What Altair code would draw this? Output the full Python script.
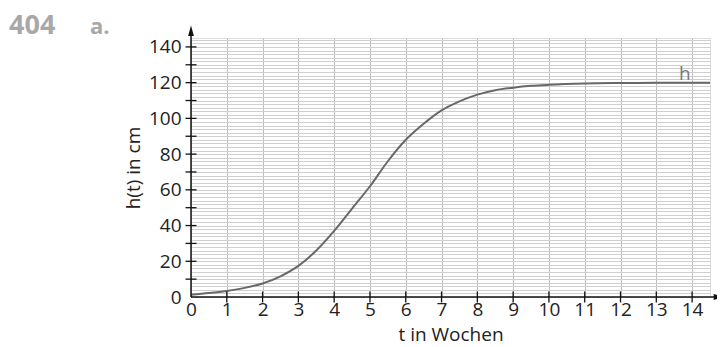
import altair as alt
import pandas as pd

# curve values
t_vals = [0, 0.5, 1, 1.5, 2, 2.5, 3, 3.5, 4, 4.5, 5, 5.5, 6, 6.5, 7, 7.5, 8, 8.5, 9, 9.5, 10, 11, 12, 13, 14, 14.5]
h_vals = [1.3, 2.2, 3.4, 5.1, 7.6, 11.6, 17.4, 26, 37, 49.5, 62, 76, 88, 97, 104.5, 109.5, 113.3, 115.8, 117.2, 118.2, 118.8, 119.5, 119.8, 120, 120, 120]

x_ticks = list(range(1, 15))
x_labels = list(range(0, 15))
y_ticks = [10, 20, 30, 40, 50, 60, 70, 80, 90, 100, 110, 120, 130, 140]
y_labels = [0, 20, 40, 60, 80, 100, 120, 140]
y_grid = list(range(0, 146, 2))

FONT = "Open Sans"
W, H = 519, 259

curve = pd.DataFrame({"t": t_vals, "h": h_vals})
xs = alt.Scale(domain=[0, 14.5], nice=False, zero=False)
ys = alt.Scale(domain=[0, 145], nice=False, zero=False)

line = alt.Chart(curve).mark_line(color="#686868", strokeWidth=2, interpolate="monotone").encode(
    x=alt.X("t:Q", scale=xs, title="t in Wochen",
            axis=alt.Axis(values=x_labels, grid=True, gridColor="#bdbdbd", gridWidth=1,
                          domain=False, ticks=False, labelPadding=3, labelFontSize=19,
                          labelOverlap=False, labelFlush=False,
                          labelFont=FONT, labelColor="#222222", titleFont=FONT,
                          titleFontSize=19, titleFontWeight="normal", titleColor="#222222",
                          titlePadding=6)),
    y=alt.Y("h:Q", scale=ys, title="h(t) in cm",
            axis=alt.Axis(values=y_grid, grid=True, gridColor="#cfcfcf", gridWidth=1,
                          domain=False, ticks=False, labelPadding=10, labelFontSize=19,
                          labelOverlap=False, labelFlush=False,
                          labelFont=FONT, labelColor="#222222",
                          labelExpr="datum.value % 20 === 0 ? datum.label : ''",
                          titleFont=FONT, titleFontSize=19, titleFontWeight="normal",
                          titleColor="#222222", titlePadding=5)),
)

ytick_df = pd.DataFrame({"v": y_ticks})
xtick_df = pd.DataFrame({"v": x_ticks})

yticks = alt.Chart(ytick_df).mark_rule(color="#111111", strokeWidth=1.3).encode(
    y=alt.Y("v:Q", scale=ys, axis=None), x=alt.value(-5.5), x2=alt.value(5.5))
xticks = alt.Chart(xtick_df).mark_rule(color="#111111", strokeWidth=1.3).encode(
    x=alt.X("v:Q", scale=xs, axis=None), y=alt.value(H - 5.5), y2=alt.value(H + 5.5))

base = alt.Chart(pd.DataFrame({"a": [0]}))
xaxis_line = base.mark_rule(color="#111111", strokeWidth=1.5).encode(
    x=alt.XDatum(0, scale=xs, axis=None), x2=alt.X2Datum(14.75),
    y=alt.YDatum(0, scale=ys, axis=None))
yaxis_line = base.mark_rule(color="#111111", strokeWidth=1.5).encode(
    x=alt.XDatum(0, scale=xs, axis=None), y=alt.YDatum(0, scale=ys, axis=None),
    y2=alt.Y2Datum(149))
x_arrow = base.mark_point(shape="M-1,-0.55L1,0L-1,0.55Z", filled=True, color="#111111",
                          opacity=1, size=110).encode(
    x=alt.XDatum(14.75, scale=xs, axis=None), y=alt.YDatum(0, scale=ys, axis=None))
y_arrow = base.mark_point(shape="M-0.55,1L0,-1L0.55,1Z", filled=True, color="#111111",
                          opacity=1, size=110).encode(
    x=alt.XDatum(0, scale=xs, axis=None), y=alt.YDatum(149, scale=ys, axis=None))

h_label = alt.Chart(pd.DataFrame({"t": [13.8], "h": [121.5], "s": ["h"]})).mark_text(
    font=FONT, fontSize=19, color="#777777", align="center", baseline="alphabetic").encode(
    x=alt.X("t:Q", scale=xs, axis=None), y=alt.Y("h:Q", scale=ys, axis=None), text="s:N")

num = base.mark_text(text="404", font=FONT, fontSize=27, fontWeight="bold", color="#a8a8a8",
                     align="left", baseline="alphabetic").encode(
    x=alt.value(-182), y=alt.value(-4))
part = base.mark_text(text="a.", font=FONT, fontSize=22, fontWeight="bold", color="#a8a8a8",
                      align="left", baseline="alphabetic").encode(
    x=alt.value(-101), y=alt.value(-4))

chart = alt.layer(line, yticks, xticks, xaxis_line, yaxis_line, x_arrow, y_arrow, h_label,
                  num, part).resolve_axis(x="independent", y="independent").properties(
    width=W, height=H,
    autosize=alt.AutoSizeParams(type="none"),
    padding={"left": 183, "top": 30, "right": 7, "bottom": 50},
).configure_view(stroke=None).configure(background="white")

chart.save("out.html", embed_options={"renderer": "svg", "actions": False})
